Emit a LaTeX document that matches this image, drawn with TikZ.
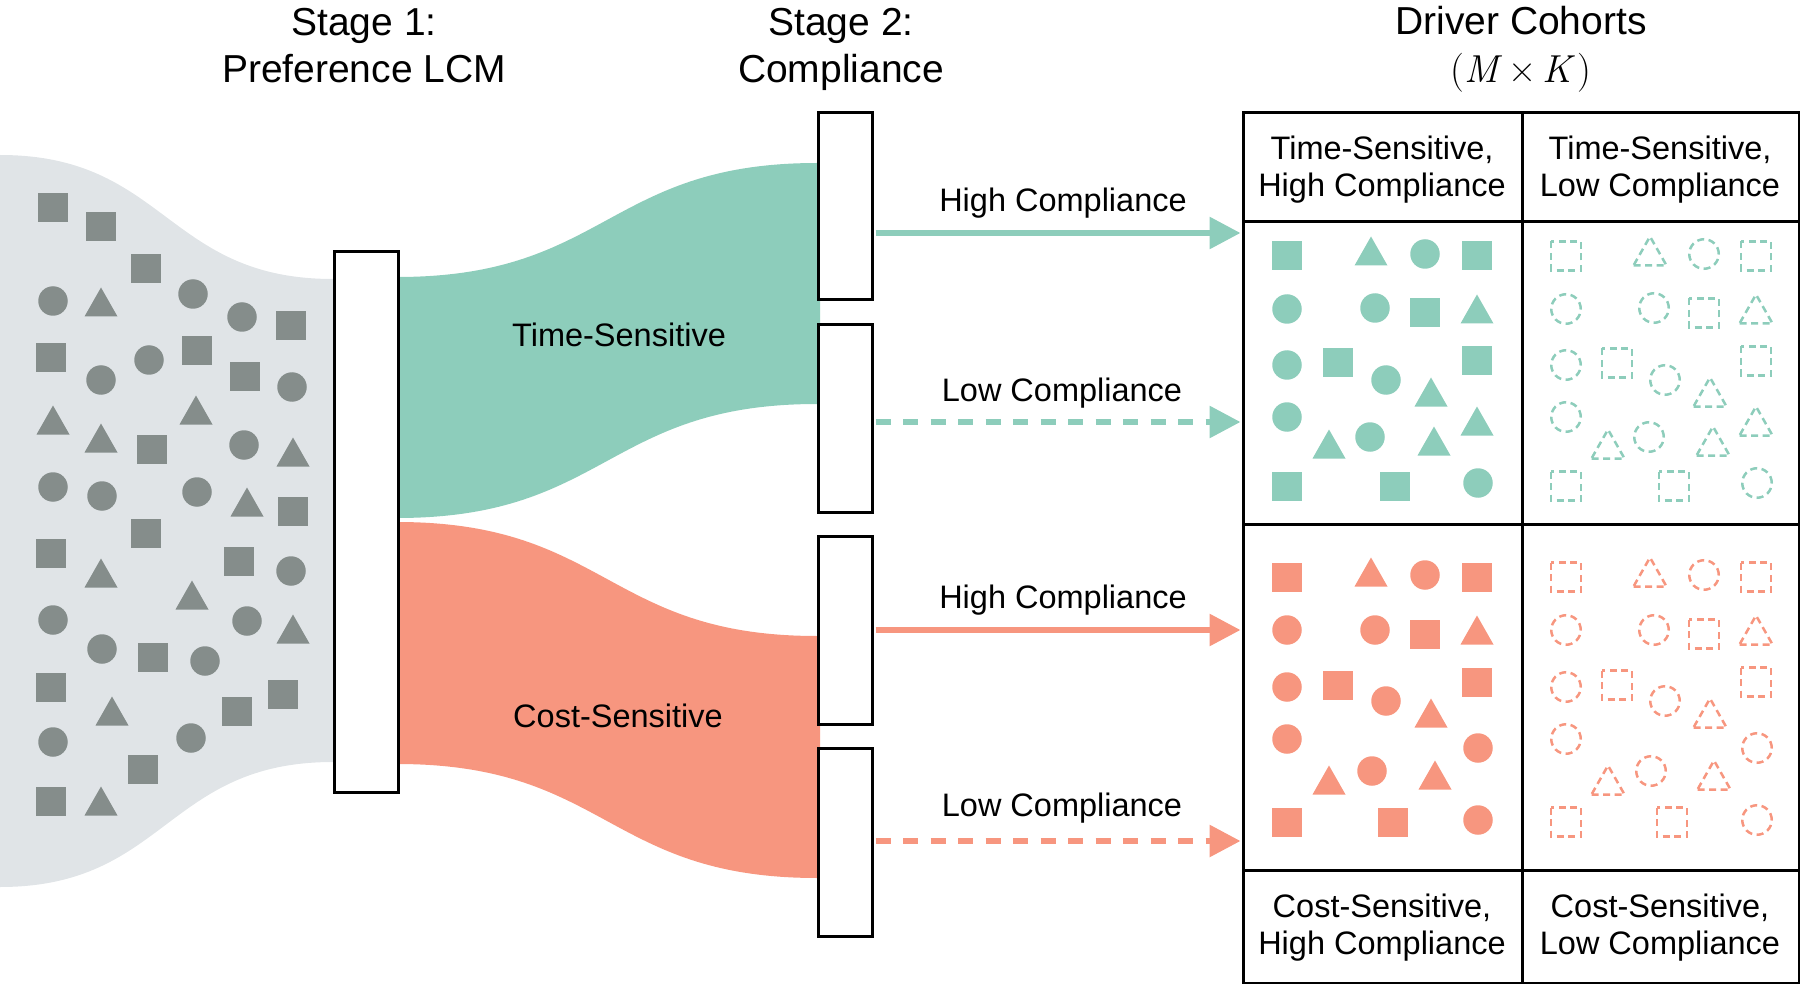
\documentclass[tikz,border=0pt]{standalone}
\usepackage{fontspec}
\setmainfont{Liberation Sans}
\newfontfamily\lmr{Latin Modern Roman}
\usetikzlibrary{arrows.meta}
\definecolor{tealc}{HTML}{8DCDBB}
\definecolor{coralc}{HTML}{F7967F}
\definecolor{blobc}{HTML}{E0E4E7}
\definecolor{shapec}{HTML}{858D8B}
\newcommand\ShSq[3]{\path[#1, shift={(#2,#3)}] (-15,-14.5) rectangle (15,14.5);}
\newcommand\ShCi[3]{\path[#1] (#2,#3) circle[radius=14.75pt];}
\newcommand\ShTr[3]{\path[#1, shift={(#2,#3)}] (-16.5,14.5) -- (16.5,14.5) -- (0,-14.5) -- cycle;}
\begin{document}
\begin{tikzpicture}[x=1pt,y=-1pt,
  ttl/.style={font=\fontsize{39}{47}\selectfont, inner sep=0pt, anchor=base},
  lbl/.style={font=\fontsize{32.5}{39}\selectfont, inner sep=0pt, anchor=base},
  boxst/.style={draw=black, fill=white, line width=3pt, inner sep=0pt, anchor=north west},
  cellst/.style={draw=black, line width=3pt, inner sep=0pt, anchor=north west},
  hiarrow/.style={line width=6pt, -{Triangle[length=31pt,width=31pt]}, shorten <=1.5pt, shorten >=1.5pt},
  loarrow/.style={hiarrow, dash pattern=on 15pt off 12.5pt},
  grayfill/.style={fill=shapec},
  tfill/.style={fill=tealc},
  cfill/.style={fill=coralc},
  tdash/.style={draw=tealc, line width=2.5pt, dash pattern=on 7pt off 4.5pt},
  cdash/.style={draw=coralc, line width=2.5pt, dash pattern=on 7pt off 4.5pt}]
\useasboundingbox (0,0) rectangle (1800,984);

% population blob
\fill[blobc] (0,155) .. controls (166,155) and (166,279) .. (333,279) -- (365,279)
  -- (365,762) -- (333,762) .. controls (166,762) and (166,887) .. (0,887) -- cycle;
\foreach \s/\x/\y in {\ShSq/53/208, \ShSq/101/227, \ShSq/146/269, \ShCi/53/301, \ShTr/101/302,
  \ShCi/193/294, \ShCi/242/317, \ShSq/291/326, \ShSq/51/358, \ShCi/101/380, \ShCi/149/360,
  \ShSq/197/351, \ShSq/245/377, \ShCi/292/387, \ShTr/53/420, \ShTr/101/438, \ShSq/152/449,
  \ShTr/196/410, \ShCi/244/445, \ShTr/293/452, \ShCi/53/487, \ShCi/102/496, \ShCi/197/492,
  \ShTr/247/502, \ShSq/293/511, \ShSq/146/533, \ShSq/51/553, \ShTr/101/573, \ShSq/239/561,
  \ShCi/291/571, \ShTr/192/595, \ShCi/53/620, \ShCi/247/621, \ShTr/293/629, \ShCi/102/649,
  \ShSq/153/657, \ShCi/205/661, \ShSq/51/687, \ShTr/112/711, \ShSq/237/711, \ShSq/283/694,
  \ShCi/53/742, \ShCi/191/738, \ShSq/143/769, \ShSq/51/801, \ShTr/101/801}
  {\s{grayfill}{\x}{\y}}

% flows
\fill[tealc] (390,277) -- (397,277) .. controls (607,277) and (607,163) .. (817,163) -- (820,163)
  -- (820,404) -- (817,404) .. controls (607,404) and (607,518) .. (397,518) -- (390,518) -- cycle;
\fill[coralc] (390,522) -- (397,522) .. controls (607,522) and (607,636) .. (817,636) -- (820,636)
  -- (820,878) -- (817,878) .. controls (607,878) and (607,764) .. (397,764) -- (390,764) -- cycle;

% stage boxes
\node[boxst, minimum width=64pt, minimum height=541pt] (bar1) at (333,250) {};
\node[boxst, minimum width=54pt, minimum height=187pt] (b1) at (817,111) {};
\node[boxst, minimum width=54pt, minimum height=188pt] (b2) at (817,323) {};
\node[boxst, minimum width=54pt, minimum height=188pt] (b3) at (817,535) {};
\node[boxst, minimum width=54pt, minimum height=188pt] (b4) at (817,747) {};

% table
\node[cellst, minimum width=279pt, minimum height=109pt] (hTL) at (1242,111) {};
\node[cellst, minimum width=277pt, minimum height=109pt] (hTR) at (1521,111) {};
\node[cellst, minimum width=279pt, minimum height=303pt] (cTL) at (1242,220) {};
\node[cellst, minimum width=277pt, minimum height=303pt] (cTR) at (1521,220) {};
\node[cellst, minimum width=279pt, minimum height=346pt] (kTL) at (1242,523) {};
\node[cellst, minimum width=277pt, minimum height=346pt] (kTR) at (1521,523) {};
\node[cellst, minimum width=279pt, minimum height=113pt] (fBL) at (1242,869) {};
\node[cellst, minimum width=277pt, minimum height=113pt] (fBR) at (1521,869) {};

% teal cohort shapes (filled left, dashed right)
\foreach \s/\x/\y in {\ShSq/1287/256, \ShTr/1371/251, \ShCi/1425/254, \ShSq/1477/256,
  \ShCi/1287/309, \ShCi/1375/308, \ShSq/1425/313, \ShTr/1477/309,
  \ShCi/1287/365, \ShSq/1338/363, \ShCi/1386/380, \ShTr/1431/392, \ShSq/1477/361,
  \ShCi/1287/417, \ShTr/1329/444, \ShCi/1370/437, \ShTr/1434/441, \ShTr/1477/421,
  \ShSq/1287/486, \ShSq/1395/486, \ShCi/1478/483}
  {\s{tfill}{\x}{\y}\s{tdash}{\x+279}{\y}}
% coral cohort shapes
\foreach \s/\x/\y in {\ShSq/1287/577, \ShTr/1371/572, \ShCi/1425/575, \ShSq/1477/577,
  \ShCi/1287/630, \ShCi/1375/630, \ShSq/1425/634, \ShTr/1477/630,
  \ShCi/1287/687, \ShSq/1338/685, \ShCi/1386/701, \ShTr/1431/713, \ShSq/1477/682,
  \ShCi/1287/739, \ShTr/1329/780, \ShCi/1372/771, \ShTr/1435/775, \ShCi/1478/748,
  \ShSq/1287/822, \ShSq/1393/822, \ShCi/1478/820}
  {\s{cfill}{\x}{\y}\s{cdash}{\x+279}{\y}}

% arrows
\coordinate (ya) at (0,233);
\coordinate (yb) at (0,422);
\coordinate (yc) at (0,630);
\coordinate (yd) at (0,841);
\draw[hiarrow, tealc] (b1.east |- ya) -- (cTL.west |- ya);
\draw[loarrow, tealc] (b2.east |- yb) -- (cTL.west |- yb);
\draw[hiarrow, coralc] (b3.east |- yc) -- (kTL.west |- yc);
\draw[loarrow, coralc] (b4.east |- yd) -- (kTL.west |- yd);

% titles
\node[ttl] (t1a) at (364,36) {Stage 1:};
\node[ttl] (t1b) at (364,83) {Preference LCM};
\node[ttl] (t2a) at (841,36) {Stage 2:};
\node[ttl] (t2b) at (841,83) {Compliance};
\node[ttl] (t3a) at (1521,35) {Driver Cohorts};
\node[ttl] (t3b) at (1521,83) {\lmr(\textit{M}\kern0.16em×\kern0.16em\textit{K}\kern0.05em)};

% labels
\node[lbl] (ts) at (619,347) {Time-Sensitive};
\node[lbl] (cs) at (618,727) {Cost-Sensitive};
\node[lbl] (la) at (1063,212) {High Compliance};
\node[lbl] (lb) at (1062,401) {Low Compliance};
\node[lbl] (lc) at (1063,608) {High Compliance};
\node[lbl] (ld) at (1062,816) {Low Compliance};

\node[lbl] (h1a) at (1382,160) {Time-Sensitive,};
\node[lbl] (h1b) at (1382,197) {High Compliance};
\node[lbl] (h2a) at (1660,160) {Time-Sensitive,};
\node[lbl] (h2b) at (1660,197) {Low Compliance};
\node[lbl] (f1a) at (1382,917) {Cost-Sensitive,};
\node[lbl] (f1b) at (1382,954) {High Compliance};
\node[lbl] (f2a) at (1660,917) {Cost-Sensitive,};
\node[lbl] (f2b) at (1660,954) {Low Compliance};
\end{tikzpicture}
\end{document}
